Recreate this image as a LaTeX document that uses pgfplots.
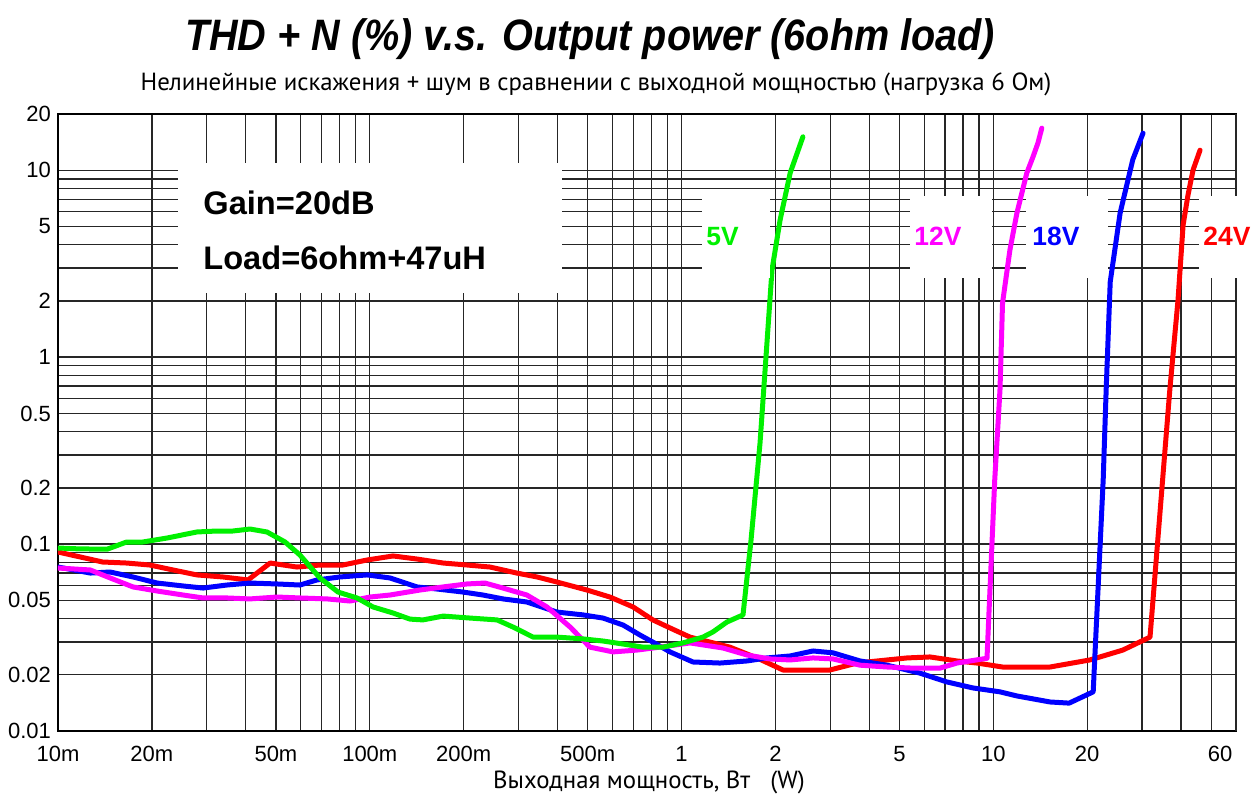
\documentclass[border=0pt]{standalone}
\usepackage{pgfplots}
\pgfplotsset{compat=1.18}
\usepackage{fontspec}
\setmainfont{Liberation Sans}
\newfontfamily\titlefont[FakeStretch=0.9]{Liberation Sans}
\newfontfamily\subfont{PT Sans}

\definecolor{cgreen}{RGB}{0,240,0}
\definecolor{cmag}{RGB}{255,0,255}
\definecolor{cblue}{RGB}{0,0,255}
\definecolor{cred}{RGB}{255,0,0}

\begin{document}
\begin{tikzpicture}
\path[use as bounding box] (0,0) rectangle (628.5pt,402pt);
\begin{axis}[
  at={(29pt,36.5pt)}, anchor=south west,
  scale only axis, width=589pt, height=308.5pt,
  xmode=log, ymode=log,
  xmin=0.01, xmax=60, ymin=0.01, ymax=20,
  xtick={0.01,0.02,0.05,0.1,0.2,0.5,1,2,5,10,20},
  xticklabels={10m,20m,50m,100m,200m,500m,1,2,5,10,20},
  extra x ticks={60}, extra x tick labels={60},
  extra x tick style={xticklabel style={xshift=-8pt}},
  minor xtick={0.03,0.04,0.06,0.07,0.08,0.09,0.3,0.4,0.6,0.7,0.8,0.9,3,4,6,7,8,9,30,40,50},
  ytick={0.01,0.02,0.05,0.1,0.2,0.5,1,2,5,10,20},
  yticklabels={0.01,0.02,0.05,0.1,0.2,0.5,1,2,5,10,20},
  minor ytick={0.03,0.04,0.06,0.07,0.08,0.09,0.3,0.4,0.6,0.7,0.8,0.9,3,4,6,7,8,9},
  grid=both,
  major grid style={black!85, line width=0.7pt},
  minor grid style={black!85, line width=0.7pt},
  major tick length=0pt, minor tick length=0pt,
  axis line style={black, line width=1pt},
  ticklabel style={font=\fontsize{11}{13}\selectfont, text=black},
  xticklabel style={yshift=-4pt},
  every axis plot/.append style={line width=2.5pt, line join=round, line cap=round, mark=none},
]
% 24 V supply
\addplot[cred] coordinates {
(0.01,0.0907) (0.0118,0.0853) (0.0139,0.0802) (0.0166,0.0792) (0.0197,0.0773)
(0.0234,0.0727) (0.0279,0.0684) (0.0338,0.0667) (0.0407,0.0643) (0.0479,0.0792)
(0.0584,0.0754) (0.0692,0.0773) (0.082,0.0773) (0.098,0.0822) (0.1187,0.0864)
(0.1417,0.0832) (0.172,0.0792) (0.205,0.0773) (0.243,0.0754) (0.296,0.07)
(0.344,0.0667) (0.398,0.0627) (0.497,0.0568) (0.589,0.0521) (0.699,0.0461)
(0.809,0.0393) (0.918,0.0356) (1.064,0.0318) (1.233,0.0299) (1.429,0.0281)
(1.745,0.0246) (2.115,0.0212) (2.99,0.0212) (3.653,0.0231) (5.284,0.0246)
(6.262,0.0249) (7.64,0.0237) (8.86,0.0231) (10.7,0.022) (15.2,0.022)
(20.4,0.024) (26.0,0.0271) (31.8,0.0318) (36.8,0.668) (39.1,2.02)
(40.6,5.10) (42.1,7.38) (43.7,10.04) (46.0,12.8)
};
% 18 V supply
\addplot[cblue] coordinates {
(0.01,0.0754) (0.0127,0.07) (0.0147,0.0709) (0.0174,0.0667) (0.0208,0.0619)
(0.0252,0.0597) (0.0292,0.0582) (0.0348,0.0604) (0.0413,0.0619) (0.0504,0.0612)
(0.0597,0.0604) (0.0677,0.0643) (0.0802,0.0667) (0.098,0.0684) (0.1161,0.0659)
(0.1417,0.059) (0.1643,0.0575) (0.199,0.0554) (0.2307,0.0534) (0.2674,0.0509)
(0.319,0.049) (0.398,0.0433) (0.483,0.0418) (0.56,0.0402) (0.649,0.0369)
(0.736,0.0326) (0.809,0.0299) (0.918,0.0265) (1.088,0.0234) (1.328,0.0231)
(1.622,0.0237) (1.878,0.0246) (2.227,0.0252) (2.639,0.0268) (3.059,0.0262)
(3.735,0.0237) (4.557,0.0225) (5.815,0.0204) (7.10,0.0183) (8.60,0.017)
(10.5,0.0162) (11.9,0.0154) (15.2,0.0143) (17.5,0.0141) (20.9,0.0162)
(22.5,0.22) (23.0,0.668) (23.7,2.53) (25.5,5.91) (28.0,11.4) (30.2,15.8)
};
% 12 V supply
\addplot[cmag] coordinates {
(0.01,0.0745) (0.0127,0.0727) (0.0147,0.0659) (0.0174,0.059) (0.0208,0.0561)
(0.0252,0.0534) (0.0292,0.0515) (0.0348,0.0515) (0.0413,0.0509) (0.0504,0.0521)
(0.0597,0.0515) (0.0729,0.0509) (0.0864,0.0496) (0.1001,0.0521) (0.1161,0.0534)
(0.1449,0.0568) (0.172,0.059) (0.205,0.0612) (0.234,0.0619) (0.2674,0.0582)
(0.319,0.0534) (0.37,0.0461) (0.439,0.036) (0.508,0.0281) (0.603,0.0265)
(0.719,0.0271) (0.852,0.0281) (1.064,0.0296) (1.233,0.0285) (1.358,0.0278)
(1.622,0.0255) (1.92,0.0243) (2.227,0.024) (2.639,0.0246) (3.059,0.0243)
(3.735,0.0225) (4.557,0.022) (5.52,0.0217) (6.74,0.0217) (7.64,0.0231)
(9.54,0.0245) (10.1,0.22) (10.5,0.668) (10.7,1.95) (11.3,3.75) (11.9,5.91)
(12.8,9.67) (13.4,11.8) (13.9,14.0) (14.3,16.8)
};
% 5 V supply
\addplot[cgreen] coordinates {
(0.01,0.0953) (0.0118,0.0942) (0.0144,0.094) (0.0166,0.1026) (0.0187,0.1026)
(0.0224,0.1078) (0.0279,0.1161) (0.0324,0.1175) (0.0364,0.1175) (0.0413,0.1204)
(0.0468,0.1161) (0.0535,0.1026) (0.0597,0.0874) (0.0692,0.0659) (0.0791,0.0554)
(0.091,0.0515) (0.1024,0.0461) (0.1187,0.0428) (0.1345,0.0397) (0.148,0.0393)
(0.172,0.0412) (0.21,0.0402) (0.256,0.0393) (0.288,0.036) (0.334,0.0318)
(0.398,0.0318) (0.483,0.0311) (0.56,0.0303) (0.649,0.0292) (0.752,0.0281)
(0.871,0.0281) (1.01,0.0296) (1.171,0.0318) (1.261,0.0339) (1.398,0.0383)
(1.574,0.0418) (1.67,0.105) (1.785,0.3475) (1.95,2.93) (2.07,5.42)
(2.23,9.68) (2.45,15.1)
};
\end{axis}

% annotations, in a 0.5pt grid measured from the top left corner
\begin{scope}[x=0.5pt, y=-0.5pt, yshift=402pt]
  \fill[white] (178,163) rectangle (562,293);
  \fill[white] (702,196) rectangle (770,278);
  \fill[white] (910,196) rectangle (992,278);
  \fill[white] (1026,196) rectangle (1108,278);
  \fill[white] (1199,196) rectangle (1257,278);
  \node[anchor=base west, inner sep=0pt, font=\fontsize{16.3}{18}\selectfont\bfseries] at (203,215) {Gain=20dB};
  \node[anchor=base west, inner sep=0pt, font=\fontsize{16.3}{18}\selectfont\bfseries] at (203,270) {Load=6ohm+47uH};
  \node[anchor=base west, inner sep=0pt, font=\fontsize{13.2}{15}\selectfont\bfseries, text=cgreen] at (706,246) {5V};
  \node[anchor=base west, inner sep=0pt, font=\fontsize{13.2}{15}\selectfont\bfseries, text=cmag] at (914,246) {12V};
  \node[anchor=base west, inner sep=0pt, font=\fontsize{13.2}{15}\selectfont\bfseries, text=cblue] at (1032,246) {18V};
  \node[anchor=base west, inner sep=0pt, font=\fontsize{13.2}{15}\selectfont\bfseries, text=cred] at (1203,246) {24V};
  \node[anchor=base, inner sep=0pt, font=\titlefont\fontsize{22}{26}\selectfont\bfseries\itshape] at (590,51) {THD + N (\%) v.s. Output power (6ohm load)};
  \node[anchor=base, inner sep=0pt, font=\subfont\fontsize{12.4}{15}\selectfont] at (596,91) {Нелинейные искажения + шум в сравнении с выходной мощностью (нагрузка 6 Ом)};
  \node[anchor=base, inner sep=0pt, font=\subfont\fontsize{12.4}{15}\selectfont] at (649,788) {Выходная мощность, Вт\hspace{10pt}(W)};
\end{scope}
\end{tikzpicture}
\end{document}
